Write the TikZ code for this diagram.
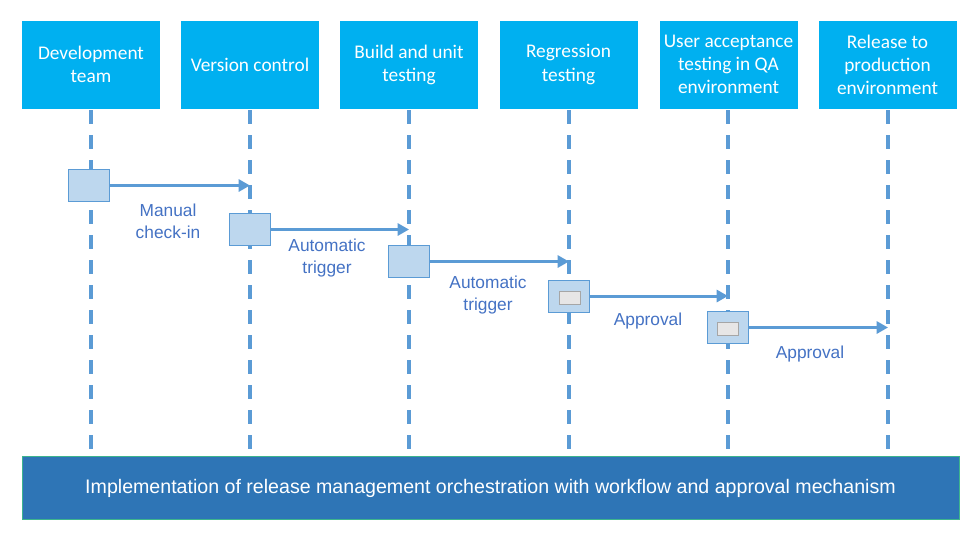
\documentclass[tikz,border=0pt]{standalone}
\usepackage{fontspec}
\setmainfont{Liberation Sans}
\newfontfamily\hdrfont{Carlito}
\usetikzlibrary{arrows.meta}
\definecolor{hdrblue}{HTML}{00B0F0}
\definecolor{lineblue}{HTML}{5B9BD5}
\definecolor{actfill}{HTML}{BDD7EE}
\definecolor{lblblue}{HTML}{4472C4}
\definecolor{barblue}{HTML}{2E75B6}
\definecolor{bargreen}{HTML}{3DB48E}
\definecolor{innerfill}{HTML}{E7E6E6}
\definecolor{innerdraw}{HTML}{A6A6A6}
\begin{document}
\begin{tikzpicture}[x=0.75pt,y=-0.75pt,
  hdr/.style={fill=hdrblue, draw=none, minimum width=138*0.75pt, minimum height=88*0.75pt, text=white, align=center, font=\hdrfont\fontsize{14.5}{17.3}\selectfont, inner sep=0pt},
  life/.style={lineblue, line width=2.6pt, dash pattern=on 10.5pt off 8.25pt, dash phase=-1pt},
  act/.style={fill=actfill, draw=lineblue, line width=0.6pt, minimum width=41*0.75pt, minimum height=32*0.75pt, inner sep=0pt},
  inner/.style={fill=innerfill, draw=innerdraw, line width=0.5pt, minimum width=21*0.75pt, minimum height=13*0.75pt, inner sep=0pt},
  msg/.style={lineblue, line width=2.25pt, -{Triangle[length=8.5pt,width=9pt]}},
  lbl/.style={text=lblblue, align=center, font=\fontsize{13}{16.5}\selectfont, inner sep=0pt}
]
\useasboundingbox (0,0) rectangle (980,536);
\fill[white] (0,0) rectangle (980,536);

% lifelines (drawn first)
\foreach \i/\x in {1/91,2/250,3/409,4/569,5/728,6/888}{
  \coordinate (top\i) at (\x,109);
  \coordinate (bot\i) at (\x,456);
  \draw[life] (top\i) -- (bot\i);
}

% headers
\node[hdr] (h1) at (91,64.5) {Development\\team};
\node[hdr] (h2) at (250,64.5) {Version control};
\node[hdr] (h3) at (409,64.5) {Build and unit\\testing};
\node[hdr] (h4) at (568.5,64.5) {Regression\\testing};
\node[hdr] (h5) at (728.5,64.5) {User acceptance\\testing in QA\\environment};
\node[hdr] (h6) at (887.5,64.5) {Release to\\production\\environment};

% activation boxes
\node[act] (a1) at (89,185.5) {};
\node[act] (a2) at (250,229.5) {};
\node[act] (a3) at (409,261.5) {};
\node[act] (a4) at (569,296) {};
\node[act] (a5) at (728,327.5) {};
\node[inner] (i4) at (569.5,297.5) {};
\node[inner] (i5) at (727.5,328.5) {};

% messages
\draw[msg] (a1.east) -- (a1.east -| top2);
\draw[msg] (a2.east) -- (a2.east -| top3);
\draw[msg] (a3.east) -- (a3.east -| top4);
\draw[msg] (a4.east) -- (a4.east -| top5);
\draw[msg] (a5.east) -- (a5.east -| top6);

% labels
\node[lbl] (l1) at (168,221) {Manual\\check-in};
\node[lbl] (l2) at (327,258) {Automatic\\trigger};
\node[lbl] (l3) at (488,295) {Automatic\\trigger};
\node[lbl] (l4) at (648,321) {Approval};
\node[lbl] (l5) at (810,354) {Approval};

% bottom bar
\node[fill=barblue, draw=bargreen, line width=0.6pt, minimum width=937*0.75pt, minimum height=63*0.75pt, inner sep=0pt, text=white, font=\fontsize{14.7}{17}\selectfont] (bar) at (490.5,488) {Implementation of release management orchestration with workflow and approval mechanism};
\end{tikzpicture}
\end{document}
